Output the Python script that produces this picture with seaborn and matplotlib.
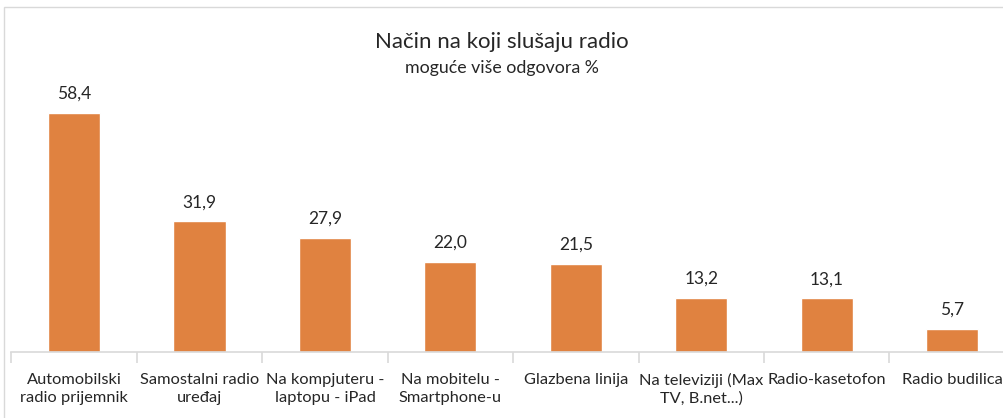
import matplotlib
matplotlib.use("Agg")
import matplotlib.pyplot as plt
import seaborn as sns
import pandas as pd
from matplotlib.patches import Rectangle

categories = ["Automobilski\nradio prijemnik", "Samostalni radio\nuređaj", "Na kompjuteru -\nlaptopu - iPad",
              "Na mobitelu -\nSmartphone-u", "Glazbena linija", "Na televiziji (Max\nTV, B.net...)",
              "Radio-kasetofon", "Radio budilica"]
values = [58.4, 31.9, 27.9, 22.0, 21.5, 13.2, 13.1, 5.7]
title = "Način na koji slušaju radio"
subtitle = "moguće više odgovora %"

sns.set_theme(style="white")
plt.rcParams['font.family'] = ['Lato', 'DejaVu Sans']

fig = plt.figure(figsize=(10.04, 4.18), dpi=100)
ax = fig.add_axes([0.0113, 0.158, 0.9995, 0.615])
df = pd.DataFrame({"cat": categories, "val": values})
sns.barplot(data=df, x="cat", y="val", color="#E08240", saturation=1, width=0.415, ax=ax)

ax.set_ylim(0, 62.8)
ax.set_xlim(-0.5, len(categories) - 0.5)
ax.set_xlabel("")
ax.set_ylabel("")
ax.set_yticks([])
for s in ["top", "right", "left"]:
    ax.spines[s].set_visible(False)
ax.spines["bottom"].set_color("#D9D9D9")
ax.spines["bottom"].set_linewidth(1.2)
ax.tick_params(axis="x", length=0, pad=15, labelsize=11.8, labelcolor="#262626")
ax.set_xticks(range(len(categories)))
ax.set_xticklabels(categories, linespacing=1.35)
ax.set_xticks([i + 0.5 for i in range(-1, len(categories))], minor=True)
ax.tick_params(axis="x", which="minor", length=8, width=1.2, color="#D9D9D9", bottom=True)

labels = [f"{v:.1f}".replace(".", ",") for v in values]
ax.bar_label(ax.containers[0], labels=labels, padding=8, fontsize=12.5, color="#262626")

fig.text(0.5, 0.9, title, ha="center", va="center", fontsize=16, color="#262626")
fig.text(0.5, 0.838, subtitle, ha="center", va="center", fontsize=12.8, color="#262626")

fig.patches.append(Rectangle((0.004, -0.01), 1.0, 0.993, transform=fig.transFigure,
                             fill=False, edgecolor="#D9D9D9", linewidth=1.0))

fig.savefig("out.png", dpi=100)
